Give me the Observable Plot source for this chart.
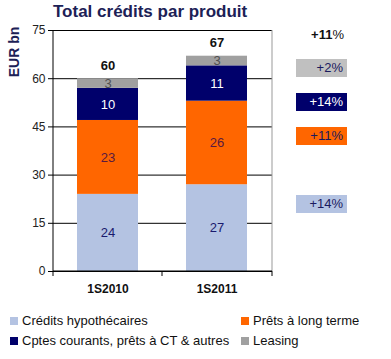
<!DOCTYPE html>
<html><head><meta charset="utf-8">
<script src="https://cdn.jsdelivr.net/npm/d3@7"></script>
<script src="https://cdn.jsdelivr.net/npm/@observablehq/plot@0.6"></script>
<style>
body{margin:0;background:#fff;font-family:"Liberation Sans",Arial,sans-serif;}
#wrap{position:relative;width:391px;height:359px;overflow:hidden;}
.abs{position:absolute;white-space:nowrap;}
.box{position:absolute;width:51px;height:18px;line-height:18px;text-align:right;box-sizing:border-box;padding-right:4px;font-size:13px;}
.sw{position:absolute;width:8px;height:8px;}
.lg{position:absolute;font-size:13px;color:#111;white-space:nowrap;line-height:16px;}
</style>
</head><body>
<div id="wrap">
  <div class="abs" id="title" style="left:53px;top:2px;font-size:17px;font-weight:bold;color:#1c2156;">Total crédits par produit</div>
  <div id="chart" style="position:absolute;left:0;top:22px;"></div>
</div>
<script>
const categories = ["1S2010", "1S2011"];
const seriesNames = ["Crédits hypothécaires", "Prêts à long terme", "Cptes courants, prêts à CT & autres", "Leasing"];
const hypothecaires = [24, 27];
const longTerme = [23, 26];
const courants = [10, 11];
const leasing = [3, 3];
const totals = [60, 67];
const growthLabels = ["+14%", "+11%", "+14%", "+2%"];
const totalGrowth = "+11";
const yTicks = [0, 15, 30, 45, 60, 75];
const yLabel = "EUR bn";

const seriesColors = ["#b4c3e2", "#ff6600", "#00006b", "#a0a0a0"];
const labelColors = ["#1a1a6e", "#5a1a40", "#ffffff", "#505050"];
const boxColors = ["#b4c3e2", "#ff6600", "#00006b", "#c0c0c0"];
const boxTextColors = ["#1a1a5e", "#1a1a5e", "#ffffff", "#1a1a5e"];

const valuesBySeries = [hypothecaires, longTerme, courants, leasing];
const rows = [];
seriesNames.forEach((s, si) => categories.forEach((c, ci) => rows.push({cat: c, series: s, si, value: valuesBySeries[si][ci]})));
const totalRows = categories.map((c, i) => ({cat: c, total: totals[i]}));

function frameExtras(index, scales, values, dims) {
  const g = d3.create("svg:g");
  const L = dims.marginLeft, R = dims.width - dims.marginRight, T = dims.marginTop, B = dims.height - dims.marginBottom;
  g.append("line").attr("x1", R).attr("x2", R).attr("y1", T).attr("y2", B).attr("stroke", "#999");
  g.append("line").attr("x1", L).attr("x2", L).attr("y1", T).attr("y2", B + 5).attr("stroke", "#000");
  g.append("line").attr("x1", L).attr("x2", R).attr("y1", B).attr("y2", B).attr("stroke", "#000");
  const x = scales.x;
  const bw = x.bandwidth ? x.bandwidth() : 0;
  const mid = bw ? (x(categories[0]) + bw + x(categories[1])) / 2 : (L + R) / 2;
  [mid, R].forEach(px => g.append("line").attr("x1", px).attr("x2", px).attr("y1", B).attr("y2", B + 5).attr("stroke", "#000"));
  return g.node();
}

const chart = Plot.plot({
  width: 391,
  height: 278,
  marginTop: 8,
  marginBottom: 29,
  marginLeft: 53,
  marginRight: 119,
  style: {fontFamily: "Liberation Sans, Arial, sans-serif", fontSize: "12px", background: "white", overflow: "visible"},
  x: {domain: categories, paddingInner: 0.44, paddingOuter: 0.22, axis: null},
  y: {domain: [0, 75], axis: null},
  color: {domain: seriesNames, range: seriesColors},
  marks: [
    Plot.ruleY(yTicks, {stroke: "#000", strokeWidth: 1}),
    Plot.barY(rows, {x: "cat", y: "value", fill: "series", z: "series"}),
    Plot.text(rows, Plot.stackY({x: "cat", y: "value", z: "series", text: d => String(d.value), fill: d => labelColors[d.si], fontSize: 13})),
    Plot.text(totalRows, {x: "cat", y: "total", text: d => String(d.total), dy: -13, fontWeight: "bold", fontSize: 13, fill: "#111"}),
    Plot.axisY({ticks: yTicks, tickSize: 5, tickPadding: 3, label: null, fontSize: 12, fill: "#222", stroke: "#000"}),
    Plot.axisX({tickSize: 0, tickPadding: 13, label: null, fontSize: 12, fontWeight: "bold", fill: "#111"}),
    frameExtras
  ]
});
document.getElementById("chart").appendChild(chart);

const wrap = document.getElementById("wrap");
// y label
const yl = document.createElement("div");
yl.className = "abs";
yl.textContent = yLabel;
yl.style.cssText += "left:14px;top:52px;font-size:14px;font-weight:bold;color:#1c2156;transform:translate(-50%,-50%) rotate(-90deg);";
wrap.appendChild(yl);

// growth annotations
const tg = document.createElement("div");
tg.className = "abs";
tg.innerHTML = "<b>" + totalGrowth + "</b>%";
tg.style.cssText += "right:47px;top:27px;font-size:13px;color:#111;";
wrap.appendChild(tg);
const boxTops = [195, 127, 93, 59];
growthLabels.forEach((t, i) => {
  const b = document.createElement("div");
  b.className = "box";
  b.textContent = t;
  b.style.left = "296px";
  b.style.top = boxTops[i] + "px";
  b.style.background = boxColors[i];
  b.style.color = boxTextColors[i];
  wrap.appendChild(b);
});

// legend
const legendPos = [[10, 316], [241, 316], [10, 336], [241, 336]];
seriesNames.forEach((s, i) => {
  const [lx, ly] = legendPos[i];
  const sw = document.createElement("div");
  sw.className = "sw";
  sw.style.left = lx + "px";
  sw.style.top = (ly + 1) + "px";
  sw.style.background = seriesColors[i];
  wrap.appendChild(sw);
  const t = document.createElement("div");
  t.className = "lg";
  t.textContent = s;
  t.style.left = (lx + 12) + "px";
  t.style.top = (ly - 3) + "px";
  wrap.appendChild(t);
});
</script>
</body></html>
